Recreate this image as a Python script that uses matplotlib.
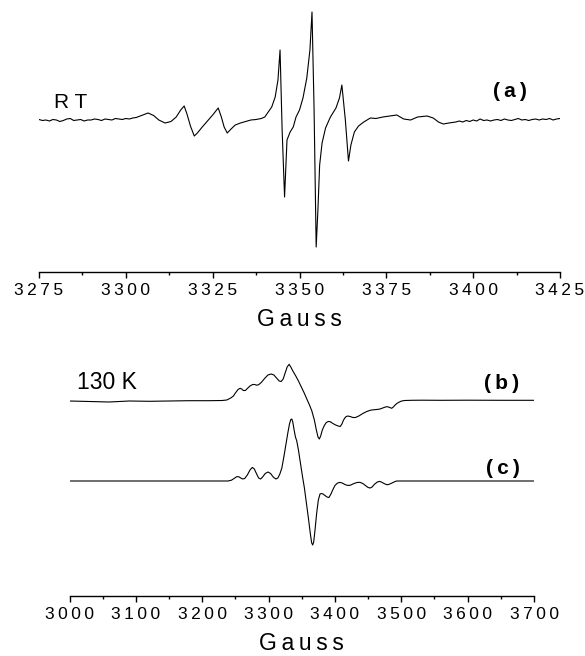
import matplotlib
matplotlib.use("Agg")
import matplotlib.pyplot as plt
from matplotlib.ticker import MultipleLocator, FuncFormatter

plt.rcParams['font.family'] = ['Liberation Sans', 'DejaVu Sans']

# (a) room temperature spectrum, field in Gauss, signal in arb. units (baseline = 0)
field_a = [3275, 3276, 3277, 3278, 3279, 3280, 3281, 3282, 3283, 3284, 3285, 3286,
           3287, 3288, 3289, 3290, 3291, 3292, 3293, 3294, 3295, 3296, 3297, 3298,
           3299, 3300, 3301, 3302, 3303, 3304.5, 3306.4, 3308, 3309.5, 3311.3,
           3313, 3314.5, 3315.8, 3316.8, 3317.6, 3318.6, 3319.7, 3320.6, 3322,
           3323.5, 3325, 3326.6, 3327.5, 3328.3, 3329.2, 3330.3, 3331.5, 3333,
           3334.5, 3336, 3337.5, 3339, 3340, 3341, 3342, 3343, 3343.8, 3344.4,
           3345.0, 3345.7, 3346.4, 3347.3, 3348.2, 3349, 3350, 3351, 3352.1, 3353,
           3353.6, 3354.2, 3354.8, 3355.3, 3355.8, 3356.5, 3357.5, 3358.9, 3360.5,
           3361.5, 3362.2, 3363.2, 3364.1, 3364.8, 3365.8, 3367, 3368.5, 3370.4,
           3372, 3374, 3376, 3378, 3380, 3382, 3384, 3386.7, 3388.5, 3390, 3391.4,
           3393, 3395, 3396, 3397, 3398, 3399, 3400, 3401, 3402, 3403, 3404, 3405,
           3406, 3407, 3408, 3409, 3410, 3411, 3412, 3413, 3414, 3415, 3416, 3417,
           3418, 3419, 3420, 3421, 3422, 3423, 3424, 3425]
signal_a = [0.5, -0.5, 0, -1, 0.5, 0, -1.5, -0.5, 1, 1.5, -0.5, 0, 0.5, -1, 0, 0,
            1, 0.5, -0.5, 1, 0.5, 0, 1.5, 1, 0.5, 1.5, 1, 2, 2.5, 4.5, 7, 4.5, 0,
            -3, -1.5, 3, 10, 14, 6, -6, -16, -13, -7, -1, 5, 12, 3, -7, -13, -9,
            -5, -3, -1.5, 0, 0.5, 1.5, 3, 8, 13, 23, 40, 70, -10, -77, -20, -12,
            -7, 3, 10, 22, 42, 70, 108, 10, -127, -90, -45, -23, -8, 3, 12, 22, 35,
            0, -41, -25, -12, -6, -2, 2, 1.5, 3, 4, 5, 1, 0, 3, 4, 2, -2, -4, -3,
            -2, -1, -2, -0.5, -1.5, 0, -1, 1, -0.5, 0, -1, 0, 0.5, -0.5, 1, 0,
            -0.5, 0.5, 1.5, 0, 0.5, -0.5, 0.5, 1, 0, 1, 0.5, 1.5, 0, 1, 1.5]

# (b) 130 K experimental spectrum
field_b = [3000, 3030, 3060, 3090, 3120, 3150, 3180, 3210, 3230, 3237, 3243, 3247,
           3250, 3254, 3257, 3259.5, 3262, 3265, 3268, 3272, 3276, 3279, 3282,
           3285, 3289, 3294, 3299, 3304, 3308, 3312, 3316, 3319, 3322, 3325, 3328,
           3331, 3333.5, 3337, 3341, 3345, 3349, 3353, 3357, 3361, 3365, 3369,
           3372, 3374.5, 3376.5, 3378.5, 3381, 3384, 3387, 3390, 3393, 3397, 3401,
           3405, 3408, 3410.5, 3413, 3416, 3419, 3423, 3427, 3431, 3436, 3442,
           3448, 3453, 3458, 3463, 3468, 3472, 3476, 3479, 3482, 3485.5, 3488,
           3491, 3494, 3497, 3500.6, 3505, 3515, 3530, 3560, 3600, 3650, 3700]
signal_b = [0, -0.5, -1, 0, -0.3, 0, 0.3, 0.3, 0.5, 1, 3, 5, 8, 11.5, 12.7, 12,
            10.5, 10.5, 12.5, 15, 16.5, 16.5, 15.8, 16.3, 18.5, 22.5, 26, 27, 26,
            23, 20, 19.5, 22, 28, 34, 36.7, 34, 29.5, 25, 20, 14.5, 9, 3, -3, -9.5,
            -19, -29, -36, -38, -35, -29, -24.5, -21.5, -20.5, -20.7, -22.5, -24,
            -25, -25.5, -23, -19, -16, -15, -15.5, -16.5, -16.5, -15, -12.5, -10.5,
            -9.3, -8.8, -8.5, -8, -7, -6, -5.7, -6.3, -7.3, -6, -3.8, -2.2, -1, 0,
            0.5, 0.7, 0.8, 0.7, 0.8, 0.7, 0.7]

# (c) simulated spectrum
field_c = [3000, 3239, 3244, 3248, 3252, 3255, 3258, 3261, 3264, 3268, 3272,
           3275.5, 3278.5, 3282, 3285, 3288, 3291, 3295, 3299, 3303, 3307, 3311,
           3314, 3317, 3320, 3323, 3326, 3329, 3331.5, 3333.5, 3335, 3336.5,
           3338.5, 3340.5, 3342.5, 3345, 3348, 3351, 3354, 3357, 3360, 3363, 3365,
           3366.5, 3368, 3370, 3372.5, 3375, 3377.5, 3380, 3382, 3385, 3388, 3391,
           3394, 3397, 3400, 3404, 3407.5, 3411, 3415, 3419, 3423, 3427, 3431,
           3434, 3438, 3442, 3446, 3450, 3453, 3456, 3460, 3464, 3467, 3470, 3474,
           3478, 3481, 3485, 3489, 3493, 3700]
signal_c = [0, 0, 0.8, 2.5, 4.3, 4.3, 3, 2, 2.5, 6, 11, 13.6, 12, 7, 3, 2, 4, 7.5,
            9, 7.5, 4, 2, 3, 7, 13, 24, 36, 48, 57, 61.5, 62, 59, 51, 44, 40, 31,
            18, 5, -7, -22, -37, -53, -62, -64, -61, -49, -32, -19, -13, -12.5,
            -13, -14.5, -16, -16.5, -13, -8.5, -4.5, -2, -1.4, -2, -3.5, -4.4,
            -4.3, -3, -2, -1.4, -1.4, -2.5, -4.5, -6.5, -7, -6, -3, -1, -0.4, -1,
            -2.5, -3.7, -3.5, -2.3, -1, 0, 0]

W, H = 585, 656
THIN = '\u2009'


def spaced(s):
    # the original figure uses wide letter spacing
    return THIN.join(s)


fig = plt.figure(figsize=(W / 100, H / 100), dpi=100)


def style(ax):
    for s in ['top', 'left', 'right']:
        ax.spines[s].set_visible(False)
    ax.spines['bottom'].set_linewidth(1.0)
    ax.set_yticks([])
    ax.tick_params(axis='x', which='major', direction='out', length=4, width=1,
                   pad=4, labelsize=12.5)
    ax.tick_params(axis='x', which='minor', direction='out', length=2, width=1)
    ax.xaxis.set_major_formatter(FuncFormatter(lambda v, p: spaced('%d' % v)))
    ax.set_xlabel(spaced('Gauss'), fontsize=16.5, labelpad=7)
    ax.patch.set_alpha(0)


# top panel
ax1 = fig.add_axes([39 / W, 1 - 272 / H, (560 - 39) / W, 272 / H])
ax1.plot(field_a, signal_a, color='black', lw=0.8)
ax1.set_xlim(3275, 3425)
ax1.set_ylim(-152, 120)
ax1.xaxis.set_major_locator(MultipleLocator(25))
ax1.xaxis.set_minor_locator(MultipleLocator(12.5))
style(ax1)
ax1.text(54 / W, 1 - 108 / H, 'R T', transform=fig.transFigure, fontsize=15)
ax1.text(493 / W, 1 - 97 / H, spaced('(a)'), transform=fig.transFigure,
         fontsize=15, fontweight='bold')

# bottom panel
off_b, off_c = 195, 115
ax2 = fig.add_axes([69.5 / W, 1 - 596 / H, (534 - 69.5) / W, 256 / H])
ax2.plot(field_b, [v + off_b for v in signal_b], color='black', lw=0.8)
ax2.plot(field_c, [v + off_c for v in signal_c], color='black', lw=0.8)
ax2.set_xlim(3000, 3700)
ax2.set_ylim(0, 256)
ax2.xaxis.set_major_locator(MultipleLocator(100))
ax2.xaxis.set_minor_locator(MultipleLocator(50))
style(ax2)
ax2.text(77 / W, 1 - 389 / H, '130 K', transform=fig.transFigure, fontsize=16.5)
ax2.text(484 / W, 1 - 389 / H, spaced('(b)'), transform=fig.transFigure,
         fontsize=15, fontweight='bold')
ax2.text(486 / W, 1 - 474 / H, spaced('(c)'), transform=fig.transFigure,
         fontsize=15, fontweight='bold')

fig.savefig('out.png', dpi=100)
